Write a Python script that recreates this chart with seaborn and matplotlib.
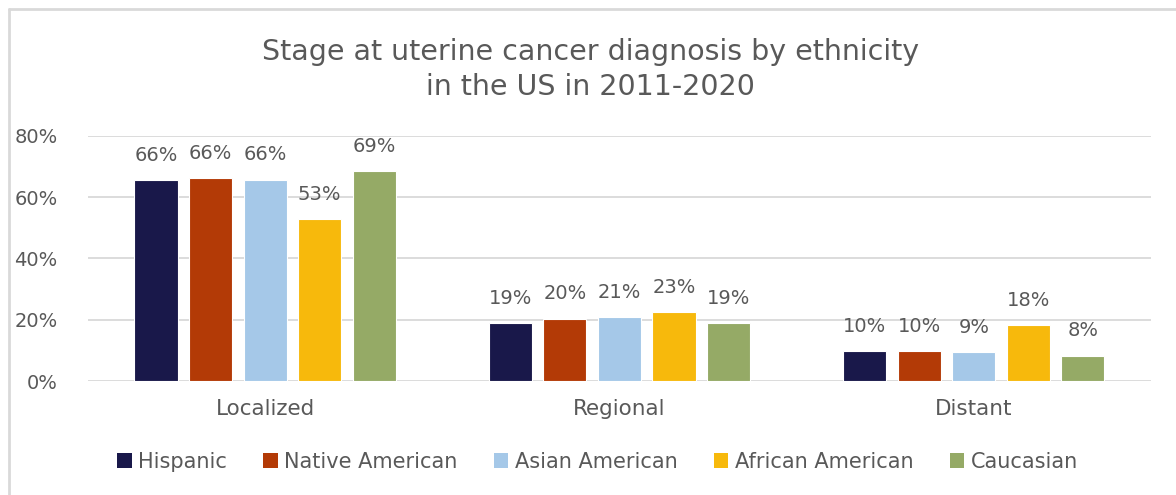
import matplotlib
matplotlib.use("Agg")
import matplotlib.pyplot as plt
import matplotlib.patches as mpatches
from matplotlib.lines import Line2D
import pandas as pd
import seaborn as sns

stages = ["Localized", "Regional", "Distant"]
ethnicities = ["Hispanic", "Native American", "Asian American", "African American", "Caucasian"]
hispanic = [65.6, 18.9, 9.8]
native_american = [66.2, 20.4, 9.8]
asian_american = [65.7, 20.8, 9.4]
african_american = [52.9, 22.6, 18.2]
caucasian = [68.6, 18.8, 8.3]
yticks = [0, 20, 40, 60, 80]
title = "Stage at uterine cancer diagnosis by ethnicity\nin the US in 2011-2020"

colors = ["#19184A", "#B33A06", "#A5C8E8", "#F7B90C", "#95AA66"]
text_color = "#595959"
grid_color = "#D9D9D9"

series = [hispanic, native_american, asian_american, african_american, caucasian]
df = pd.DataFrame(
    [(s, e, v) for e, vals in zip(ethnicities, series) for s, v in zip(stages, vals)],
    columns=["stage", "ethnicity", "pct"],
)

sns.set_theme(style="white")
plt.rcParams["font.family"] = ["DejaVu Sans"]

fig = plt.figure(figsize=(11.76, 4.95), dpi=100)
ax = fig.add_axes([0.0748, 0.2303, 0.9039, 0.4950])

sns.barplot(
    data=df, x="stage", y="pct", hue="ethnicity",
    order=stages, hue_order=ethnicities, palette=colors, saturation=1,
    width=0.77, gap=0.21, ax=ax, legend=False,
    edgecolor="white", linewidth=0.8, zorder=3,
)

for container in ax.containers:
    ax.bar_label(container, fmt=lambda v: f"{v:.0f}%", padding=11,
                 fontsize=14, color=text_color)

ax.set_xlim(-0.5, 2.5)
ax.set_ylim(0, 80)
ax.set_yticks(yticks)
ax.set_yticklabels([f"{t}%" for t in yticks])
ax.yaxis.grid(True, color=grid_color, linewidth=1.3, zorder=0)
ax.set_axisbelow(True)
for side in ["top", "right", "left", "bottom"]:
    ax.spines[side].set_visible(False)
ax.tick_params(axis="y", length=0, pad=22, labelsize=14, labelcolor=text_color)
ax.tick_params(axis="x", length=0, pad=13, labelsize=15.5, labelcolor=text_color)
ax.set_xlabel("")
ax.set_ylabel("")

fig.text(0.502, 0.86, title, ha="center", va="center", fontsize=20.5,
         color=text_color, linespacing=1.3)

handles = [mpatches.Patch(facecolor=c, edgecolor="none") for c in colors]
fig.legend(handles, ethnicities, loc="center", bbox_to_anchor=(0.508, 0.067),
           ncol=5, frameon=False, fontsize=15, labelcolor=text_color,
           handlelength=0.7, handleheight=0.7, handletextpad=0.3,
           columnspacing=1.75)

# outer frame: only its top and left edges fall inside the canvas
fx = 8.5 / 1176
fy = 1 - 8.5 / 495
fig.add_artist(Line2D([fx, 1.0], [fy, fy], transform=fig.transFigure,
                      color=grid_color, linewidth=2.0))
fig.add_artist(Line2D([fx, fx], [0.0, fy], transform=fig.transFigure,
                      color=grid_color, linewidth=2.0))

fig.savefig("out.png", dpi=100, facecolor="white")
